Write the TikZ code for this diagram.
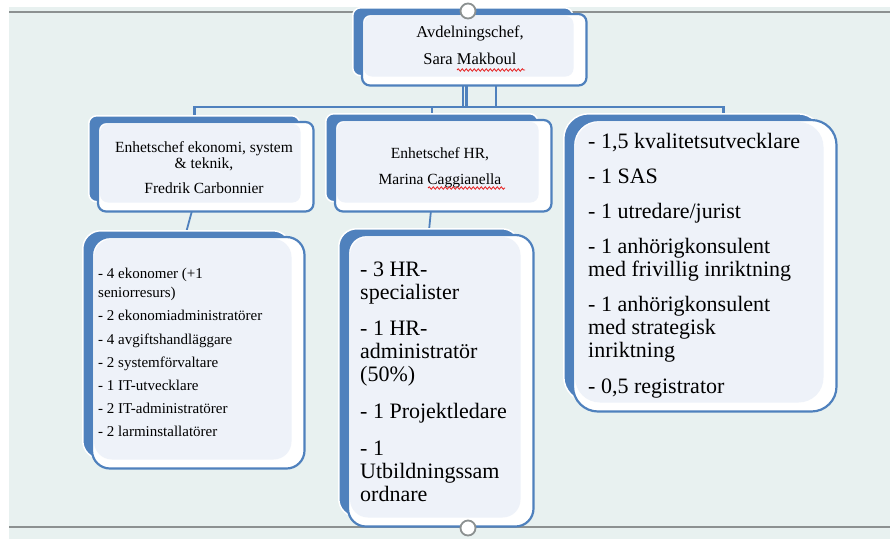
\documentclass[tikz,border=0pt]{standalone}
\usepackage{fontspec}
\setmainfont{Liberation Serif}
\usetikzlibrary{positioning,decorations.pathmorphing}
\definecolor{boxblue}{RGB}{79,129,189}
\definecolor{panelblue}{RGB}{238,242,249}
\definecolor{pagegreen}{RGB}{232,241,240}
\definecolor{selgrey}{RGB}{140,145,145}
\definecolor{squiggle}{RGB}{230,30,30}

\pgfdeclarelayer{bg}
\pgfdeclarelayer{edges}
\pgfsetlayers{bg,edges,main}

\tikzset{
  backbox/.style={fill=boxblue, draw=white, line width=1.5pt, inner sep=0pt, anchor=north west},
  conn/.style={draw=boxblue, line width=2.5pt},
  headtext/.style={anchor=north, align=center, inner sep=0pt, font=\fontsize{15.5}{16.5}\selectfont},
  listtext/.style={anchor=north west, align=left, inner sep=0pt},
  spell/.style={draw=squiggle, line width=0.8pt, decorate,
    decoration={snake, segment length=4pt, amplitude=1.2pt}}
}

% front plate and light panel on top of a back plate
\newcommand{\boxfront}[2]{%
  \fill[white, draw=boxblue, line width=2.2pt, rounded corners=#2]
    ([shift={(10,7)}]#1.north west) rectangle ([shift={(13,9)}]#1.south east);
  \fill[panelblue, rounded corners=#2]
    ([shift={(12,9)}]#1.north west) rectangle (#1.south east);
}

\begin{document}
\begin{tikzpicture}[x=1pt, y=-1pt]
\useasboundingbox (0,0) rectangle (890,539);

% Page and selection frame
\begin{pgfonlayer}{bg}
  \fill[white] (0,0) rectangle (890,539);
  \fill[pagegreen] (9,7) rectangle (890,539);
  \draw[selgrey, line width=2pt] (9,12) -- (890,12);
  \draw[selgrey, line width=2pt] (9,527) -- (890,527);
\end{pgfonlayer}

% Boxes
\node[backbox, rounded corners=8pt, minimum width=220pt, minimum height=68pt] (chef) at (352,7) {};
\boxfront{chef}{8pt}
\node[backbox, rounded corners=8pt, minimum width=211pt, minimum height=86pt] (ekon) at (88,115) {};
\boxfront{ekon}{8pt}
\node[backbox, rounded corners=8pt, minimum width=212pt, minimum height=88pt] (hr) at (325,113) {};
\boxfront{hr}{8pt}
\node[backbox, rounded corners=18pt, minimum width=208pt, minimum height=228pt] (ekonlist) at (82,230) {};
\boxfront{ekonlist}{18pt}
\node[backbox, rounded corners=18pt, minimum width=181pt, minimum height=288pt] (hrlist) at (338,228) {};
\boxfront{hrlist}{18pt}
\node[backbox, rounded corners=25pt, minimum width=259pt, minimum height=288pt] (stab) at (563,113) {};
\boxfront{stab}{25pt}

% Connectors
\coordinate (bus) at (0,107);
\coordinate (chefa) at ([xshift=3.5pt]chef.south);
\coordinate (chefb) at ([xshift=33pt]chef.south);
\coordinate (stabtop) at ([xshift=30pt]stab.north);
\begin{pgfonlayer}{edges}
  \draw[conn] (chef.south) -- (chef.south |- bus) -| (ekon.north);
  \draw[conn] (chefb) -- (chefb |- bus) -| (hr.north);
  \draw[conn] (chefa) -- (chefa |- bus) -| (stabtop);
  \draw[conn, line width=1.8pt] (ekon.south) -- (ekonlist.north);
  \draw[conn, line width=1.8pt] (hr.south) -- (hrlist.north);
\end{pgfonlayer}

% Names
\node[headtext, font=\fontsize{16.5}{27}\selectfont] (chefname) at (470,26) {Avdelningschef,\\ Sara Makboul};
\node[headtext] (ekonname) at (204,141) {Enhetschef ekonomi, system\\ \& teknik,\\[8pt] Fredrik Carbonnier};
\node[headtext, font=\fontsize{15.5}{26}\selectfont] (hrname) at (440,147) {Enhetschef HR,\\ Marina Caggianella};

% Staff lists
\node[listtext, font=\fontsize{15}{19}\selectfont] (ekonstaff) at (98,268)
  {- 4 ekonomer (+1\\ seniorresurs)\\[4.2pt] - 2 ekonomiadministratörer\\[4.2pt] - 4 avgiftshandläggare\\[4.2pt]
   - 2 systemförvaltare\\[4.2pt] - 1 IT-utvecklare\\[4.2pt] - 2 IT-administratörer\\[4.2pt] - 2 larminstallatörer};
\node[listtext, font=\fontsize{22}{23}\selectfont] (hrstaff) at (360,262)
  {- 3 HR-\\ specialister\\[13pt] - 1 HR-\\ administratör\\ (50\%)\\[14pt] - 1 Projektledare\\[14pt]
   - 1\\ Utbildningssam\\ ordnare};
\node[listtext, font=\fontsize{22}{23}\selectfont] (stabstaff) at (588,133)
  {- 1,5 kvalitetsutvecklare\\[12pt] - 1 SAS\\[12pt] - 1 utredare/jurist\\[12pt] - 1 anhörigkonsulent\\
   med frivillig inriktning\\[12pt] - 1 anhörigkonsulent\\ med strategisk\\ inriktning\\[13pt] - 0,5 registrator};

% Spelling marks
\draw[spell] (457,70) -- (525,70);
\draw[spell] (428,188) -- (505,188);

% Selection handles
\draw[selgrey, fill=white, line width=1.8pt] (468,11) circle (7.5pt);
\draw[selgrey, fill=white, line width=1.8pt] (468,528) circle (7.5pt);
\end{tikzpicture}
\end{document}
